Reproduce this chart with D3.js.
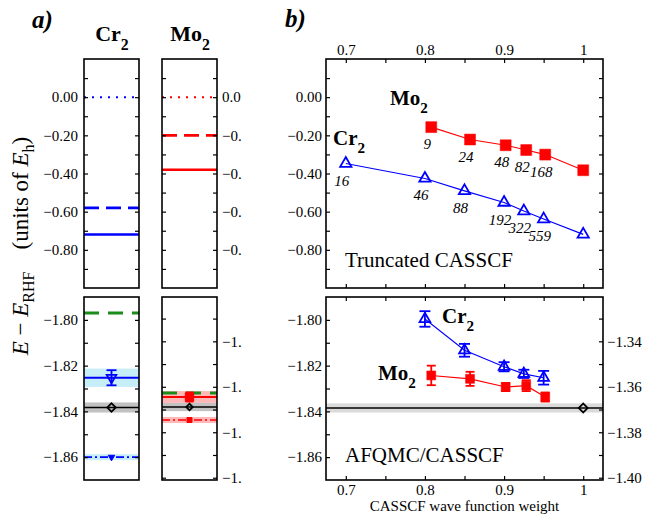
<!DOCTYPE html>
<html>
<head>
<meta charset="utf-8">
<script src="https://cdn.jsdelivr.net/npm/d3@7"></script>
<style>
  body { margin: 0; background: #fff; }
</style>
</head>
<body>
<svg width="645" height="514"></svg>
<script>
// ---------- data ----------
// panel a, upper boxes: dotted / dashed / solid levels (Eh)
const levelDash = ["2,6", "15,7", null];
const cr2Levels = [0.00, -0.58, -0.72];
const mo2Levels = [0.00, -0.20, -0.38];

// panel a, lower boxes: green dashed, AFQMC, reference, dash-dot
const cr2Lower = [-1.797, -1.8253, -1.8383, -1.8600];
const cr2LowerBand = [0, 0.0040, 0.0022, 0.0013];
const cr2LowerErr = 0.0033;
const mo2Lower = [-1.3627, -1.3645, -1.3689, -1.3746];
const mo2LowerBand = [0, 0.0026, 0.0018, 0.0013];
const mo2LowerErr = 0.0020;

// panel b, truncated CASSCF
const cr2Weights = [0.70, 0.80, 0.85, 0.90, 0.925, 0.95, 1.00];
const cr2Trunc = [-0.348, -0.426, -0.491, -0.552, -0.597, -0.639, -0.719];
const cr2Dets = ["16", "46", "88", "192", "322", "559"];
const mo2Weights = [0.808, 0.857, 0.902, 0.928, 0.952, 1.00];
const mo2Trunc = [-0.157, -0.222, -0.252, -0.277, -0.301, -0.383];
const mo2Dets = ["9", "24", "48", "82", "168"];

// panel b, AFQMC/CASSCF (Cr2 on left axis, Mo2 on right axis)
const cr2AfqmcW = [0.80, 0.85, 0.90, 0.925, 0.95];
const cr2Afqmc = [-1.7996, -1.8133, -1.8205, -1.8236, -1.8253];
const cr2AfqmcErr = [0.0034, 0.0028, 0.0020, 0.0018, 0.0030];
const mo2AfqmcW = [0.808, 0.857, 0.902, 0.928, 0.952];
const mo2Afqmc = [-1.3550, -1.3565, -1.3601, -1.3595, -1.3645];
const mo2AfqmcErr = [0.0043, 0.0031, 0.0018, 0.0024, 0.0020];
const refWeight = 1.0, refValue = -1.8385, refBand = 0.0020;

// tick values
const topTicks = [0.1, 0, -0.1, -0.2, -0.3, -0.4, -0.5, -0.6, -0.7, -0.8, -0.9];
const topLabels = [0, -0.2, -0.4, -0.6, -0.8];
const lowTicksL = [-1.80, -1.81, -1.82, -1.83, -1.84, -1.85, -1.86];
const lowLabelsL = [-1.80, -1.82, -1.84, -1.86];
const lowTicksR = [-1.33, -1.34, -1.35, -1.36, -1.37, -1.38, -1.39, -1.40];
const lowLabelsR = [-1.34, -1.36, -1.38, -1.40];
const wTicks = [0.70, 0.75, 0.80, 0.85, 0.90, 0.95, 1.00];
const wLabels = [0.7, 0.8, 0.9, 1.0];

// ---------- layout ----------
const SERIF = "'Liberation Serif', 'Times New Roman', 'DejaVu Serif', serif";
const svg = d3.select("svg").attr("font-family", SERIF);
const BLUE = "#0000ff", RED = "#ff0000", GREEN = "#1a8c1a";
const CYAN = "#c6eef8", PINK = "#ffb8b8", GREY_A = "#c2c2c2", GREY_B = "#dadada";

const boxCr = [84, 139], boxMo = [162, 217], boxB = [326, 603];
const topY = [59, 288], lowY = [297, 480];

const yTop = d3.scaleLinear().domain([-1.0, 0.2]).range([topY[1], topY[0]]);
const yLowL = d3.scaleLinear().domain([-1.87, -1.79]).range([lowY[1], lowY[0]]);
const yLowR = d3.scaleLinear().domain([-1.401, -1.3205]).range([lowY[1], lowY[0]]);
const xB = d3.scaleLinear().domain([0.675, 1.025]).range(boxB);
const xCr = d3.scaleLinear().domain([0, 1]).range(boxCr);
const xMo = d3.scaleLinear().domain([0, 1]).range(boxMo);

const f2 = d3.format(".2f");
const fw = d => d === 1 ? "1" : d3.format(".1f")(d);
const cut = d => f2(d).slice(0, 3);   // labels clipped by panel b
const has = (arr, d) => arr.some(v => Math.abs(v - d) < 1e-9);

function yAxis(x, scale, vals, labels, fmt, side, pad) {
  const ax = (side === "left" ? d3.axisLeft(scale) : d3.axisRight(scale))
    .tickValues(vals).tickSize(-4).tickSizeOuter(0).tickPadding(pad)
    .tickFormat(d => has(labels, d) ? fmt(d) : "");
  const g = svg.append("g").attr("transform", `translate(${x},0)`).call(ax);
  g.attr("font-family", SERIF).attr("font-size", 15);
  g.select(".domain").remove();
  g.selectAll("line").attr("stroke-width", 1.2);
}

function xAxis(y, vals, labels, side) {
  const ax = (side === "top" ? d3.axisTop(xB) : d3.axisBottom(xB))
    .tickValues(vals).tickSize(-4).tickSizeOuter(0).tickPadding(4)
    .tickFormat(d => has(labels, d) ? fw(d) : "");
  const g = svg.append("g").attr("transform", `translate(0,${y})`).call(ax);
  g.attr("font-family", SERIF).attr("font-size", 15);
  g.select(".domain").remove();
  g.selectAll("line").attr("stroke-width", 1.2);
}

function hline(x0, x1, y, color, width, dash) {
  svg.append("line").attr("x1", x0).attr("x2", x1).attr("y1", y).attr("y2", y)
    .attr("stroke", color).attr("stroke-width", width)
    .attr("stroke-dasharray", dash || null);
}

function band(x0, x1, ya, yb, color) {
  svg.append("rect").attr("x", x0).attr("width", x1 - x0)
    .attr("y", Math.min(ya, yb)).attr("height", Math.abs(yb - ya)).attr("fill", color);
}

function errbar(x, ya, yb, cap, color, w) {
  const g = svg.append("g").attr("stroke", color).attr("stroke-width", w);
  g.append("line").attr("x1", x).attr("x2", x).attr("y1", ya).attr("y2", yb);
  [ya, yb].forEach(y => g.append("line").attr("x1", x - cap / 2).attr("x2", x + cap / 2)
    .attr("y1", y).attr("y2", y));
}

function marker(x, y, type, size, fill, stroke, sw, rot) {
  svg.append("path").attr("d", d3.symbol().type(type).size(size)())
    .attr("transform", `translate(${x},${y})` + (rot ? ` rotate(${rot})` : ""))
    .attr("fill", fill).attr("stroke", stroke).attr("stroke-width", sw);
}

function chem(x, y, base, sub, size, anchor) {
  const t = svg.append("text").attr("x", x).attr("y", y)
    .attr("font-size", size).attr("font-weight", "bold").attr("text-anchor", anchor || "start");
  t.append("tspan").text(base);
  t.append("tspan").attr("dy", size * 0.4).attr("font-size", size * 0.72).text(sub);
}

function frame(x, y) {
  svg.append("rect").attr("x", x[0]).attr("y", y[0])
    .attr("width", x[1] - x[0]).attr("height", y[1] - y[0])
    .attr("fill", "none").attr("stroke", "#000").attr("stroke-width", 1.6);
}

// ---------- panel a, upper ----------
levelDash.forEach((dash, i) => {
  const w = i === 0 ? 2 : 2.6;
  hline(boxCr[0], boxCr[1], yTop(cr2Levels[i]), BLUE, w, dash);
  hline(boxMo[0], boxMo[1], yTop(mo2Levels[i]), RED, w, dash);
});

// ---------- panel a, lower ----------
function lowerBox(box, xs, ys, vals, bands, err, color, light, cr) {
  const cx = xs(0.5);
  [1, 2, 3].forEach(i => band(box[0], box[1], ys(vals[i] + bands[i]), ys(vals[i] - bands[i]), i === 2 ? GREY_A : light));
  hline(box[0], box[1], ys(vals[0]), GREEN, 3, "15,9");
  hline(box[0], box[1], ys(vals[1]), color, 1.8);
  hline(box[0], box[1], ys(vals[2]), "#000", 1.4);
  hline(box[0], box[1], ys(vals[3]), color, 1.6, "8,3,2,3");
  errbar(cx, ys(vals[1] + err), ys(vals[1] - err), cr ? 10 : 8, color, 1.8);
  if (cr) {
    marker(cx, ys(vals[1]), d3.symbolTriangle, 40, "none", color, 1.8, 180);
    marker(cx, ys(vals[3]), d3.symbolTriangle, 18, color, color, 1, 180);
    marker(cx, ys(vals[2]), d3.symbolSquare, 36, "none", "#000", 1.8, 45);
  } else {
    marker(cx, ys(vals[1]), d3.symbolSquare, 70, color, color, 1);
    marker(cx, ys(vals[3]), d3.symbolSquare, 25, color, color, 1);
    marker(cx, ys(vals[2]), d3.symbolSquare, 22, "none", "#000", 1.8, 45);
  }
}
lowerBox(boxCr, xCr, yLowL, cr2Lower, cr2LowerBand, cr2LowerErr, BLUE, CYAN, true);
lowerBox(boxMo, xMo, yLowR, mo2Lower, mo2LowerBand, mo2LowerErr, RED, PINK, false);

// panel a axes
yAxis(boxCr[0], yTop, topTicks, topLabels, f2, "left", 6);
yAxis(boxCr[1], yTop, topTicks, [], f2, "right", 4);
yAxis(boxMo[0], yTop, topTicks, [], f2, "left", 4);
yAxis(boxMo[1], yTop, topTicks, topLabels, cut, "right", 5);
yAxis(boxCr[0], yLowL, lowTicksL, lowLabelsL, f2, "left", 6);
yAxis(boxCr[1], yLowL, lowTicksL, [], f2, "right", 4);
yAxis(boxMo[0], yLowR, lowTicksR, [], f2, "left", 4);
yAxis(boxMo[1], yLowR, lowTicksR, lowLabelsR, cut, "right", 5);
frame(boxCr, topY); frame(boxMo, topY); frame(boxCr, lowY); frame(boxMo, lowY);

// ---------- panel b, upper ----------
const line = (xs, ys) => d3.line().x((d, i) => xB(xs[i])).y(d => ys(d));
svg.append("path").datum(mo2Trunc).attr("d", line(mo2Weights, yTop))
  .attr("fill", "none").attr("stroke", RED).attr("stroke-width", 1.1);
svg.append("path").datum(cr2Trunc).attr("d", line(cr2Weights, yTop))
  .attr("fill", "none").attr("stroke", BLUE).attr("stroke-width", 1.1);
mo2Trunc.forEach((v, i) => marker(xB(mo2Weights[i]), yTop(v), d3.symbolSquare, 120, RED, RED, 0.5));
cr2Trunc.forEach((v, i) => marker(xB(cr2Weights[i]), yTop(v), d3.symbolTriangle, 55, "none", BLUE, 1.8));
const detLabel = (w, v, s) => svg.append("text").attr("x", xB(w) - 4).attr("y", yTop(v) + 22)
  .attr("text-anchor", "middle").attr("font-size", 15).attr("font-style", "italic").text(s);
mo2Dets.forEach((s, i) => detLabel(mo2Weights[i], mo2Trunc[i], s));
cr2Dets.forEach((s, i) => detLabel(cr2Weights[i], cr2Trunc[i], s));

// ---------- panel b, lower ----------
band(boxB[0], boxB[1], yLowL(refValue + refBand), yLowL(refValue - refBand), GREY_B);
hline(boxB[0], boxB[1], yLowL(refValue), "#000", 1.4);
marker(xB(refWeight), yLowL(refValue), d3.symbolSquare, 40, "none", "#000", 1.8, 45);
svg.append("path").datum(mo2Afqmc).attr("d", line(mo2AfqmcW, yLowR))
  .attr("fill", "none").attr("stroke", RED).attr("stroke-width", 1.1);
svg.append("path").datum(cr2Afqmc).attr("d", line(cr2AfqmcW, yLowL))
  .attr("fill", "none").attr("stroke", BLUE).attr("stroke-width", 1.1);
mo2Afqmc.forEach((v, i) => {
  errbar(xB(mo2AfqmcW[i]), yLowR(v + mo2AfqmcErr[i]), yLowR(v - mo2AfqmcErr[i]), 9, RED, 1.8);
  marker(xB(mo2AfqmcW[i]), yLowR(v), d3.symbolSquare, 80, RED, RED, 0.5);
});
cr2Afqmc.forEach((v, i) => {
  errbar(xB(cr2AfqmcW[i]), yLowL(v + cr2AfqmcErr[i]), yLowL(v - cr2AfqmcErr[i]), 11, BLUE, 1.8);
  marker(xB(cr2AfqmcW[i]), yLowL(v), d3.symbolTriangle, 50, "none", BLUE, 1.8);
});

// panel b axes
yAxis(boxB[0], yTop, topTicks, topLabels, f2, "left", 4);
yAxis(boxB[1], yTop, topTicks, [], f2, "right", 4);
yAxis(boxB[0], yLowL, lowTicksL, lowLabelsL, f2, "left", 4);
yAxis(boxB[1], yLowR, lowTicksR, lowLabelsR, f2, "right", 4);
xAxis(topY[0], wTicks, wLabels, "top");
xAxis(topY[1], wTicks, [], "bottom");
xAxis(lowY[0], wTicks, [], "top");
xAxis(lowY[1], wTicks, wLabels, "bottom");
frame(boxB, topY); frame(boxB, lowY);

// ---------- text ----------
svg.append("text").attr("x", 32).attr("y", 28).attr("font-size", 25)
  .attr("font-weight", "bold").attr("font-style", "italic").text("a)");
svg.append("text").attr("x", 285).attr("y", 27).attr("font-size", 25)
  .attr("font-weight", "bold").attr("font-style", "italic").text("b)");
chem(112, 41, "Cr", "2", 22, "middle");
chem(190, 41, "Mo", "2", 22, "middle");
chem(390, 105, "Mo", "2", 21);
chem(333, 145, "Cr", "2", 21);
chem(442, 323, "Cr", "2", 21);
chem(378, 380, "Mo", "2", 21);
svg.append("text").attr("x", 345).attr("y", 267).attr("font-size", 21).text("Truncated CASSCF");
svg.append("text").attr("x", 345).attr("y", 462).attr("font-size", 21).text("AFQMC/CASSCF");
svg.append("text").attr("x", xB(0.85)).attr("y", 511).attr("text-anchor", "middle")
  .attr("font-size", 15).text("CASSCF wave function weight");

const yt = svg.append("text").attr("transform", "translate(28,246) rotate(-90)")
  .attr("text-anchor", "middle").attr("font-size", 23);
yt.append("tspan").attr("font-style", "italic").text("E");
yt.append("tspan").text(" \u2212 ");
yt.append("tspan").attr("font-style", "italic").text("E");
yt.append("tspan").attr("dy", 6).attr("font-size", 16).text("RHF");
yt.append("tspan").attr("dy", -6).attr("dx", 22).text("(units of ");
yt.append("tspan").attr("font-style", "italic").text("E");
yt.append("tspan").attr("dy", 6).attr("font-size", 16).text("h");
yt.append("tspan").attr("dy", -6).text(")");
</script>
</body>
</html>
